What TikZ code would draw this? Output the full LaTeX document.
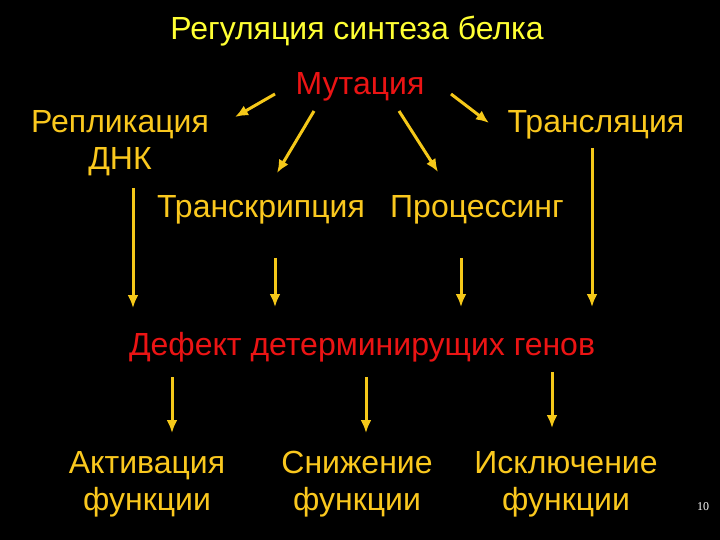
\documentclass[tikz,border=0pt]{standalone}
\usepackage{fontspec}
\setmainfont{Liberation Sans}
\newfontfamily\numfont{Liberation Serif}
\usetikzlibrary{arrows.meta}
\definecolor{titleyel}{RGB}{255,255,51}
\definecolor{gold}{RGB}{250,200,30}
\definecolor{redtxt}{RGB}{235,20,20}
\definecolor{arrgold}{RGB}{245,200,25}

\begin{document}
\begin{tikzpicture}[x=1bp,y=-1bp,
    txt/.style={inner sep=0pt,anchor=base,gold,align=center,
                font=\fontsize{32bp}{37bp}\selectfont},
    arr/.style={arrgold,line width=3bp,-{Latex[length=13bp,width=11bp]}}]
  % fondo negro
  \fill[black] (0,0) rectangle (720,540);
  \useasboundingbox (0,0) rectangle (720,540);
  % titulo
  \node[txt,titleyel] (title) at (357,40) {Регуляция синтеза белка};
  % procesos (base = ultima linea)
  \node[txt,redtxt] (mut) at (360,95) {Мутация};
  \node[txt] (repl) at (120,170) {Репликация\\ДНК};
  \node[txt] (transl) at (596,133) {Трансляция};
  \node[txt] (transc) at (261,218) {Транскрипция};
  \node[txt] (proc) at (477,218) {Процессинг};
  \node[txt,redtxt] (defect) at (362,355) {Дефект детерминирущих генов};
  % consecuencias
  \node[txt] (act) at (147,510) {Активация\\функции};
  \node[txt] (dec) at (357,510) {Снижение\\функции};
  \node[txt] (excl) at (566,510) {Исключение\\функции};
  \node[inner sep=0pt,anchor=base,white,font=\numfont\fontsize{12bp}{14bp}\selectfont]
       (page) at (703,510) {10};
  % extremos de las flechas
  \coordinate (mutA) at (275,94);   \coordinate (replA) at (235,117);
  \coordinate (mutB) at (314,111);  \coordinate (transcB) at (277,173);
  \coordinate (mutC) at (399,111);  \coordinate (procC) at (438,172);
  \coordinate (mutD) at (451,94);   \coordinate (translD) at (489,123);
  \coordinate (replE) at (133,188); \coordinate (defE) at (133,308);
  \coordinate (transcF) at (275,258); \coordinate (defF) at (275,307);
  \coordinate (procG) at (461,258); \coordinate (defG) at (461,307);
  \coordinate (translH) at (592,148); \coordinate (defH) at (592,307);
  \coordinate (defI) at (172,377);  \coordinate (actI) at (172,433);
  \coordinate (defJ) at (366,377);  \coordinate (decJ) at (366,433);
  \coordinate (defK) at (552,372);  \coordinate (exclK) at (552,428);
  \foreach \a/\b in {mutA/replA,mutB/transcB,mutC/procC,mutD/translD,
                     replE/defE,transcF/defF,procG/defG,translH/defH,
                     defI/actI,defJ/decJ,defK/exclK}
    \draw[arr] (\a) -- (\b);
\end{tikzpicture}
\end{document}
